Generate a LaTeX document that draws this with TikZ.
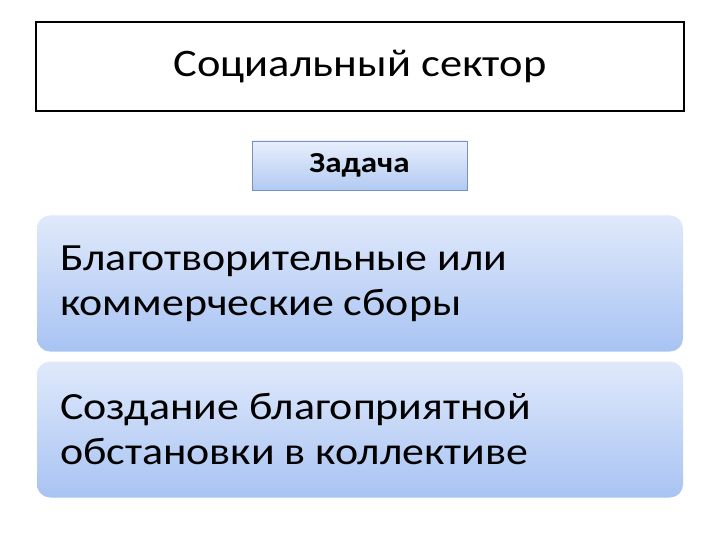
\documentclass[tikz,border=0pt]{standalone}
\usepackage{fontspec}
\setmainfont{Carlito}[FakeStretch=1.14]
\usetikzlibrary{shadings}
\definecolor{topblue}{RGB}{224,233,251}
\definecolor{botblue}{RGB}{168,195,243}
\definecolor{tasktop}{RGB}{232,239,252}
\definecolor{taskbot}{RGB}{178,202,242}
\definecolor{taskline}{RGB}{120,145,190}

\begin{document}
\begin{tikzpicture}[x=1pt,y=-1pt]
					\tikzstyle{sector} = [draw=black,line width=1.6pt,fill=white,minimum width=648pt,minimum height=89pt,font=\fontsize{39}{45}\selectfont]
					\tikzstyle{task} = [draw=taskline,line width=0.6pt,top color=tasktop,bottom color=taskbot,minimum width=215pt,minimum height=49pt,font=\fontsize{29}{34}\selectfont\bfseries]
					\tikzstyle{item} = [rounded corners=13pt,top color=topblue,bottom color=botblue,minimum width=646pt,minimum height=136pt,text width=600pt,inner xsep=23pt,align=flush left,font=\fontsize{38.5}{45}\selectfont]
					\useasboundingbox (0,0) rectangle (720,540);
					\node[sector] (title) at (360,66.5) {Социальный сектор};
					\node[task] (goal) at (359.5,165.5) {Задача};
					\node[item] (fund) at (360,283.5) {Благотворительные или\\коммерческие сборы};
					\node[item] (team) at (360,429.5) {Создание благоприятной\\обстановки в коллективе};
					\end{tikzpicture}
\end{document}
